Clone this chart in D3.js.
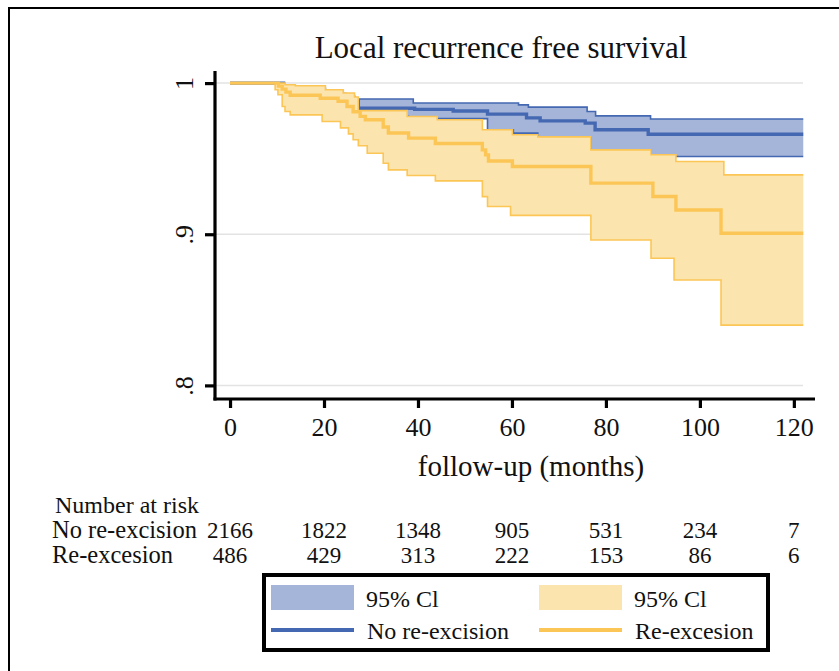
<!DOCTYPE html>
<html>
<head>
<meta charset="utf-8">
<script src="https://cdn.jsdelivr.net/npm/d3@7"></script>
<style>
  html, body { margin: 0; padding: 0; background: #fff; }
  svg { display: block; }
  text { font-family: "Liberation Serif", "Times New Roman", Times, serif; fill: #111; }
</style>
</head>
<body>
<svg id="chart" width="839" height="671"></svg>
<script>
// ---------- data ----------
const titleText = "Local recurrence free survival";
const xAxisTitle = "follow-up (months)";
const xTicks = [0, 20, 40, 60, 80, 100, 120];
const yTicks = [0.8, 0.9, 1];
const yTickLabels = [".8", ".9", "1"];
const endTime = 122;

// No re-excision (blue): [time, survival]
const noReexSurv = [[0,1],[11.4,0.9965],[15,0.996],[18,0.9945],[22,0.9925],[24.5,0.99],[26.5,0.988],
  [27.3,0.9834],[39.3,0.9826],[47.5,0.9815],[54.8,0.9795],[63.1,0.977],[66,0.975],[75.6,0.9735],[77.7,0.9691],[89,0.9662]];
const noReexUpper = [[0,1],[11.4,0.998],[13.9,0.9965],[20.3,0.994],[24.1,0.9915],[26.5,0.9895],[39,0.9868],
  [61.4,0.9856],[63.5,0.9841],[76,0.9812],[77.8,0.9783],[89.5,0.9762]];
const noReexLower = [[0,1],[11.4,0.996],[16,0.993],[20,0.99],[24,0.986],[27,0.982],[32,0.978],
  [38,0.9765],[54.8,0.9691],[60.3,0.9669],[65.5,0.9642],[76.8,0.9558],[89.6,0.9526],[94.5,0.9514]];

// Re-excesion (yellow): [time, survival]
const reexSurv = [[0,1],[10.3,0.998],[11.1,0.996],[11.9,0.994],[12.8,0.992],[19.2,0.99],[23,0.988],[24.9,0.9845],
  [26.2,0.981],[27.7,0.978],[28.8,0.9757],[32.6,0.971],[33.7,0.967],[38,0.9636],[43.7,0.96],[53.7,0.9558],
  [54.4,0.9525],[55,0.9485],[60.1,0.9448],[76.8,0.9338],[90,0.925],[94.9,0.916],[104.5,0.9007]];
const reexUpper = [[0,1],[11.7,0.9989],[13.9,0.9982],[20.3,0.9956],[24.1,0.9934],[26.5,0.9908],[27.3,0.9818],
  [37.7,0.9779],[44.1,0.9757],[53.7,0.9691],[60.1,0.9658],[65.5,0.9644],[76.8,0.9558],[89.6,0.9526],
  [94.9,0.9481],[105.1,0.9393]];
const reexLower = [[0,1],[9.6,0.9956],[10.2,0.9923],[11.1,0.9845],[11.7,0.9812],[12.8,0.979],[19.6,0.9746],
  [23.5,0.9704],[25.2,0.9664],[26.2,0.9625],[27.3,0.9585],[29.2,0.9536],[32.6,0.947],[33.7,0.9426],
  [37.7,0.9389],[43.7,0.9353],[53.7,0.9249],[54.8,0.9184],[59.7,0.9125],[76.8,0.8962],[89.6,0.8841],
  [94.5,0.8697],[104.5,0.8399]];

// Number at risk
const riskTimes = [0, 20, 40, 60, 80, 100, 120];
const riskNoReex = [2166, 1822, 1348, 905, 531, 234, 7];
const riskReex = [486, 429, 313, 222, 153, 86, 6];
const groupNames = ["No re-excision", "Re-excesion"];
const ciLabel = "95% Cl";

// ---------- styles ----------
const blueLine = "#4468b1", blueFill = "#a4b5d9";
const yelLine = "#fcc656", yelFill = "#fbe4ae";

const svg = d3.select("#chart");

const x = d3.scaleLinear().domain([-3.2, 124.5]).range([215, 815]);
const y = d3.scaleLinear().domain([0.791, 1.008]).range([399, 71]);

// outer frame (top + left)
svg.append("path").attr("d", "M9,671V8H839").attr("fill", "none").attr("stroke", "#000").attr("stroke-width", 2);

// title
svg.append("text").attr("x", 501).attr("y", 58).attr("text-anchor", "middle")
  .style("font-size", "31px").text(titleText);

// gridlines
svg.append("g").selectAll("line").data(yTicks).join("line")
  .attr("x1", 216).attr("x2", 803)
  .attr("y1", d => y(d)).attr("y2", d => y(d))
  .attr("stroke", "#e3e3e3").attr("stroke-width", 1.5);

// helpers
function stepVal(arr, t) {
  let v = arr[0][1];
  for (const p of arr) { if (p[0] <= t) v = p[1]; else break; }
  return v;
}
function bandData(up, lo) {
  const ts = Array.from(new Set(up.map(d => d[0]).concat(lo.map(d => d[0])).concat([endTime]))).sort((a, b) => a - b);
  return ts.map(t => ({ t, hi: stepVal(up, t), lo: stepVal(lo, t) }));
}
function withEnd(arr) { return arr.concat([[endTime, arr[arr.length - 1][1]]]); }

const area = d3.area().curve(d3.curveStepAfter).x(d => x(d.t)).y0(d => y(d.lo)).y1(d => y(d.hi));
const line = d3.line().curve(d3.curveStepAfter).x(d => x(d[0])).y(d => y(d[1]));

function drawBand(up, lo, fill, stroke) {
  const g = svg.append("g");
  g.append("path").datum(bandData(up, lo)).attr("d", area).attr("fill", fill);
  g.append("path").datum(withEnd(up)).attr("d", line).attr("fill", "none").attr("stroke", stroke).attr("stroke-width", 1.6);
  g.append("path").datum(withEnd(lo)).attr("d", line).attr("fill", "none").attr("stroke", stroke).attr("stroke-width", 1.6);
}
function drawLine(data, stroke) {
  svg.append("path").datum(withEnd(data)).attr("d", line).attr("fill", "none")
    .attr("stroke", stroke).attr("stroke-width", 3.4);
}

drawBand(noReexUpper, noReexLower, blueFill, blueLine);
drawLine(noReexSurv, blueLine);
drawBand(reexUpper, reexLower, yelFill, yelLine);
drawLine(reexSurv, yelLine);

// axes
const xAxis = d3.axisBottom(x).tickValues(xTicks).tickSize(9).tickPadding(10).tickFormat(d3.format("d"));
const gx = svg.append("g").attr("transform", "translate(0,399)").call(xAxis);
gx.select(".domain").attr("stroke", "#000").attr("stroke-width", 3.2).attr("d", "M213.5,0H815");
gx.selectAll(".tick line").attr("stroke", "#000").attr("stroke-width", 3.2);
gx.selectAll(".tick text").style("font-size", "26px").style("font-family", "Liberation Serif").attr("fill", "#111").attr("dy", "0.71em");

const yAxis = d3.axisLeft(y).tickValues(yTicks).tickSize(10).tickFormat((d, i) => yTickLabels[i]);
const gy = svg.append("g").attr("transform", "translate(215,0)").call(yAxis);
gy.select(".domain").attr("stroke", "#000").attr("stroke-width", 3.2).attr("d", "M0,71V400.6");
gy.selectAll(".tick line").attr("stroke", "#000").attr("stroke-width", 3.2);
gy.selectAll(".tick text").attr("x", null).attr("dy", null)
  .attr("transform", "translate(-22,0) rotate(-90)")
  .attr("text-anchor", "middle").style("font-size", "26px").style("font-family", "Liberation Serif").attr("fill", "#111");

// x axis title
svg.append("text").attr("x", 531).attr("y", 476).attr("text-anchor", "middle")
  .style("font-size", "29px").text(xAxisTitle);

// number at risk table
svg.append("text").attr("x", 55).attr("y", 513).style("font-size", "24px").text("Number at risk");
const rows = [riskNoReex, riskReex];
rows.forEach((vals, r) => {
  const yy = 538 + r * 25;
  svg.append("text").attr("x", 52).attr("y", yy).style("font-size", "24.5px").text(groupNames[r]);
  svg.append("g").selectAll("text").data(vals).join("text")
    .attr("x", (d, i) => x(riskTimes[i])).attr("y", yy)
    .attr("text-anchor", "middle").style("font-size", "23px").text(d => d);
});

// legend
const lg = svg.append("g");
lg.append("rect").attr("x", 264).attr("y", 575).attr("width", 504).attr("height", 75)
  .attr("fill", "#fff").attr("stroke", "#000").attr("stroke-width", 4);
const legendItems = [
  { x0: 271, fill: blueFill, line: blueLine, name: groupNames[0] },
  { x0: 539, fill: yelFill, line: yelLine, name: groupNames[1] }
];
legendItems.forEach(it => {
  lg.append("rect").attr("x", it.x0).attr("y", 585).attr("width", 83).attr("height", 25).attr("fill", it.fill);
  lg.append("text").attr("x", it.x0 + 95).attr("y", 607).style("font-size", "24px").text(ciLabel);
  lg.append("line").attr("x1", it.x0).attr("x2", it.x0 + 83).attr("y1", 630).attr("y2", 630)
    .attr("stroke", it.line).attr("stroke-width", 4);
  lg.append("text").attr("x", it.x0 + 96).attr("y", 639).style("font-size", "24px").text(it.name);
});
</script>
</body>
</html>
